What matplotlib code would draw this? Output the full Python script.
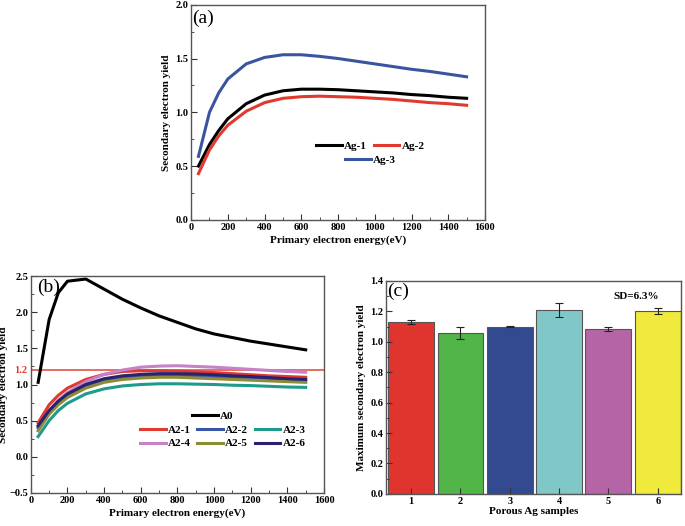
import matplotlib.pyplot as plt
from matplotlib.ticker import MultipleLocator

plt.rcParams['font.family'] = ['Liberation Serif', 'DejaVu Serif']
plt.rcParams['font.weight'] = 'bold'
plt.rcParams['axes.labelweight'] = 'bold'

# ---- data ----
energy = [40, 100, 150, 200, 300, 400, 500, 600, 700, 800, 900, 1000, 1100, 1200, 1300, 1400, 1500]

ag1 = [0.50, 0.70, 0.83, 0.94, 1.08, 1.16, 1.20, 1.215, 1.215, 1.21, 1.20, 1.19, 1.18, 1.165, 1.155, 1.14, 1.13]
ag2 = [0.43, 0.65, 0.78, 0.88, 1.01, 1.09, 1.13, 1.145, 1.15, 1.145, 1.14, 1.13, 1.12, 1.105, 1.09, 1.08, 1.065]
ag3 = [0.59, 1.00, 1.18, 1.31, 1.45, 1.51, 1.535, 1.535, 1.52, 1.50, 1.475, 1.45, 1.425, 1.40, 1.38, 1.355, 1.33]

a0 = [1.03, 1.90, 2.27, 2.43, 2.46, 2.32, 2.18, 2.06, 1.95, 1.86, 1.77, 1.70, 1.65, 1.60, 1.56, 1.52, 1.48]
a2_1 = [0.47, 0.72, 0.85, 0.95, 1.07, 1.14, 1.18, 1.19, 1.19, 1.185, 1.175, 1.165, 1.15, 1.135, 1.12, 1.11, 1.10]
a2_2 = [0.40, 0.62, 0.75, 0.85, 0.98, 1.06, 1.10, 1.12, 1.13, 1.13, 1.12, 1.11, 1.10, 1.09, 1.075, 1.06, 1.05]
a2_3 = [0.28, 0.50, 0.64, 0.74, 0.87, 0.94, 0.98, 1.00, 1.01, 1.01, 1.005, 1.00, 0.99, 0.985, 0.975, 0.965, 0.96]
a2_4 = [0.42, 0.64, 0.78, 0.89, 1.04, 1.14, 1.20, 1.24, 1.255, 1.26, 1.25, 1.24, 1.225, 1.21, 1.195, 1.18, 1.17]
a2_5 = [0.36, 0.59, 0.72, 0.82, 0.95, 1.03, 1.07, 1.09, 1.10, 1.10, 1.09, 1.08, 1.07, 1.06, 1.05, 1.04, 1.03]
a2_6 = [0.43, 0.64, 0.77, 0.87, 1.00, 1.08, 1.12, 1.14, 1.15, 1.15, 1.145, 1.135, 1.12, 1.11, 1.095, 1.08, 1.07]

samples = [1, 2, 3, 4, 5, 6]
max_sey = [1.13, 1.06, 1.10, 1.21, 1.085, 1.205]
max_err = [0.015, 0.04, 0.005, 0.045, 0.015, 0.02]
bar_colors = ['#e0352f', '#52b548', '#334a90', '#80c8c8', '#b565a5', '#f0ea3c']


def style_axes(ax):
    for s in ax.spines.values():
        s.set_color('#555555')
        s.set_linewidth(1.0)
    ax.tick_params(which='both', direction='in', top=False, right=False,
                   labelsize=7.5, color='#333333', pad=2)
    ax.tick_params(which='major', length=4)
    ax.tick_params(which='minor', length=2.5)


fig = plt.figure(figsize=(6.85, 5.26), dpi=100)

# ---- (a) ----
ax1 = fig.add_axes([0.279, 0.582, 0.429, 0.409])
l1, = ax1.plot(energy, ag1, color='black', lw=2.2)
l2, = ax1.plot(energy, ag2, color='#e03a2f', lw=2.2)
l3, = ax1.plot(energy, ag3, color='#3a55a0', lw=2.2)
ax1.set_xlim(0, 1600)
ax1.set_ylim(0, 2.0)
ax1.xaxis.set_major_locator(MultipleLocator(200))
ax1.xaxis.set_minor_locator(MultipleLocator(100))
ax1.yaxis.set_major_locator(MultipleLocator(0.5))
ax1.yaxis.set_minor_locator(MultipleLocator(0.25))
ax1.set_xlabel('Primary electron energy(eV)', fontsize=8, labelpad=3)
ax1.set_ylabel('Secondary electron yield', fontsize=8, labelpad=3)
style_axes(ax1)
ax1.text(0.005, 0.975, '(a)', transform=ax1.transAxes, fontsize=14,
         fontweight='normal', va='top', ha='left')
leg_a1 = ax1.legend([l1, l2], ['Ag-1', 'Ag-2'], ncol=2, loc='center',
                    bbox_to_anchor=(0.61, 0.345), frameon=False, fontsize=8,
                    handlelength=2.3, columnspacing=0.6, handletextpad=0.2)
ax1.add_artist(leg_a1)
ax1.legend([l3], ['Ag-3'], loc='center', bbox_to_anchor=(0.61, 0.28),
           frameon=False, fontsize=8, handlelength=2.3, handletextpad=0.2)

# ---- (b) ----
ax2 = fig.add_axes([0.045, 0.063, 0.428, 0.412])
ax2.axhline(1.2, color='#e8504a', lw=1.2)
h0, = ax2.plot(energy, a0, color='black', lw=2.2)
h1, = ax2.plot(energy, a2_1, color='#e03a2f', lw=2.2)
h4, = ax2.plot(energy, a2_4, color='#c682c6', lw=2.2)
h2, = ax2.plot(energy, a2_2, color='#3a55a8', lw=2.2)
h5, = ax2.plot(energy, a2_5, color='#8c8c35', lw=2.2)
h3, = ax2.plot(energy, a2_3, color='#1f9a8c', lw=2.2)
h6, = ax2.plot(energy, a2_6, color='#2a2270', lw=2.2)
ax2.set_xlim(0, 1600)
ax2.set_ylim(-0.5, 2.5)
ax2.xaxis.set_major_locator(MultipleLocator(200))
ax2.xaxis.set_minor_locator(MultipleLocator(100))
ax2.yaxis.set_major_locator(MultipleLocator(0.5))
ax2.yaxis.set_minor_locator(MultipleLocator(0.25))
ax2.set_xlabel('Primary electron energy(eV)', fontsize=8, labelpad=3)
ax2.set_ylabel('Secondary electron yield', fontsize=8, labelpad=1)
style_axes(ax2)
ax2.text(-0.012, 1.2, '1.2', transform=ax2.get_yaxis_transform(), color='#e03a2f',
         fontsize=7.5, ha='right', va='center')
ax2.text(0.02, 0.99, '(b)', transform=ax2.transAxes, fontsize=14,
         fontweight='normal', va='top', ha='left')
leg_b1 = ax2.legend([h0], ['A0'], loc='center', bbox_to_anchor=(0.62, 0.355),
                    frameon=False, fontsize=8, handlelength=2.3, handletextpad=0.2)
ax2.add_artist(leg_b1)
ax2.legend([h1, h4, h2, h5, h3, h6], ['A2-1', 'A2-4', 'A2-2', 'A2-5', 'A2-3', 'A2-6'],
           ncol=3, loc='center', bbox_to_anchor=(0.655, 0.258), frameon=False,
           fontsize=8, handlelength=2.3, handletextpad=0.2, columnspacing=0.6,
           labelspacing=0.3)

# ---- (c) ----
ax3 = fig.add_axes([0.5635, 0.061, 0.4305, 0.405])
ax3.bar(samples, max_sey, width=0.93, color=bar_colors, edgecolor='#555555', lw=0.8,
        yerr=max_err, capsize=3, error_kw=dict(ecolor='#222222', elinewidth=0.8, capthick=0.8))
ax3.set_xlim(0.49, 6.47)
ax3.set_ylim(0, 1.4)
ax3.set_xticks(samples)
ax3.yaxis.set_major_locator(MultipleLocator(0.2))
ax3.yaxis.set_minor_locator(MultipleLocator(0.1))
ax3.set_xlabel('Porous Ag samples', fontsize=8, labelpad=1)
ax3.set_ylabel('Maximum secondary electron yield', fontsize=8, labelpad=3)
style_axes(ax3)
ax3.text(0.005, 0.99, '(c)', transform=ax3.transAxes, fontsize=14,
         fontweight='normal', va='top', ha='left')
ax3.text(0.85, 0.925, 'SD=6.3%', transform=ax3.transAxes, fontsize=8, ha='center', va='center')

fig.savefig('out.png', dpi=100)
